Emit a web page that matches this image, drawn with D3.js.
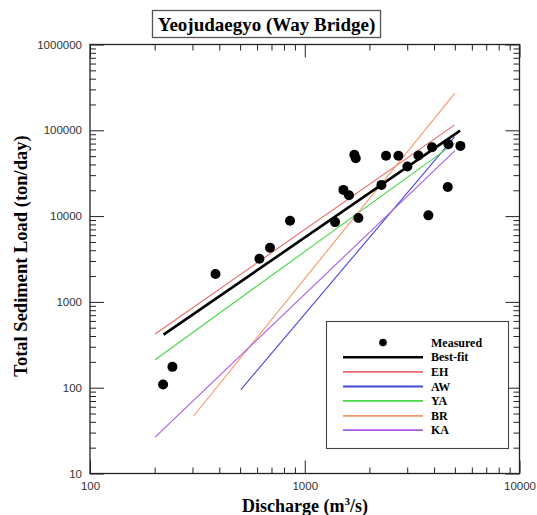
<!DOCTYPE html>
<html><head><meta charset="utf-8">
<script src="https://cdn.jsdelivr.net/npm/d3@7"></script>
<style>body{margin:0;background:#fff}svg{display:block}</style>
</head><body>
<script>
const title = "Yeojudaegyo (Way Bridge)";
const xLabelMain = "Discharge (m";
const yLabel = "Total Sediment Load (ton/day)";
const xTickLabels = [100, 1000, 10000];
const yTickLabels = [10, 100, 1000, 10000, 100000, 1000000];
// Measured points
const discharge = [219, 242, 384, 615, 689, 854, 1384, 1514, 1607, 1702, 1728, 1777, 2275, 2391, 2729, 3006, 3383, 3917, 3765, 4668, 4634, 5306];
const load = [109, 175, 2110, 3190, 4280, 8810, 8510, 20200, 17500, 51800, 47300, 9500, 23100, 50400, 50400, 37800, 50800, 63500, 10200, 68900, 21800, 65800];
// Fitted lines: [x start, y start, x end, y end]
const seriesNames = ["Best-fit", "EH", "AW", "YA", "BR", "KA"];
const lineStart = [[220, 415], [201, 423], [504, 95], [201, 212], [303, 46.5], [201, 26.5]];
const lineEnd = [[5290, 99200], [4990, 115600], [4990, 84000], [4990, 70800], [4990, 270000], [5010, 58000]];
const colors = ["#000000", "#e86a6a", "#4848d8", "#48d848", "#f4986a", "#a85ce0"];

const W = 537, H = 515;
const svg = d3.select("body").append("svg").attr("width", W).attr("height", H);
const x = d3.scaleLog().domain([100, 10000]).range([90, 519.5]);
const y = d3.scaleLog().domain([10, 1000000]).range([473.5, 44.5]);

function minorTicks(dom) {
  const out = [];
  for (let d = dom[0]; d < dom[1]; d *= 10) for (let k = 2; k <= 9; k++) out.push(d * k);
  return out;
}
const xMinor = minorTicks(x.domain()), yMinor = minorTicks(y.domain());
const fmt = d => String(d);
const axCol = "#222";

function styleAxis(g) { g.select(".domain").remove(); g.selectAll("line").attr("stroke", axCol).attr("stroke-width", 1); }
// bottom axis
svg.append("g").attr("transform", "translate(0,473.5)")
  .call(d3.axisBottom(x).tickValues(xMinor).tickSize(-6).tickFormat("")).call(styleAxis);
svg.append("g").attr("transform", "translate(0,473.5)")
  .call(d3.axisBottom(x).tickValues(xTickLabels).tickSize(-13).tickPadding(8).tickFormat(fmt)).call(styleAxis)
  .selectAll("text").attr("font-family", "Liberation Sans, Arial, sans-serif").attr("font-size", 11.5).attr("fill", "#333");
// top axis
svg.append("g").attr("transform", "translate(0,44.5)")
  .call(d3.axisTop(x).tickValues(xMinor).tickSize(-6).tickFormat("")).call(styleAxis);
svg.append("g").attr("transform", "translate(0,44.5)")
  .call(d3.axisTop(x).tickValues(xTickLabels).tickSize(-13).tickFormat("")).call(styleAxis);
// left axis
svg.append("g").attr("transform", "translate(90,0)")
  .call(d3.axisLeft(y).tickValues(yMinor).tickSize(-6).tickFormat("")).call(styleAxis);
svg.append("g").attr("transform", "translate(90,0)")
  .call(d3.axisLeft(y).tickValues(yTickLabels).tickSize(-14).tickPadding(8).tickFormat(fmt)).call(styleAxis)
  .selectAll("text").attr("font-family", "Liberation Sans, Arial, sans-serif").attr("font-size", 11.5).attr("fill", "#333");
// right axis
svg.append("g").attr("transform", "translate(519.5,0)")
  .call(d3.axisRight(y).tickValues(yMinor).tickSize(-6).tickFormat("")).call(styleAxis);
svg.append("g").attr("transform", "translate(519.5,0)")
  .call(d3.axisRight(y).tickValues(yTickLabels).tickSize(-14).tickFormat("")).call(styleAxis);
// frame
svg.append("rect").attr("x", 90).attr("y", 44.5).attr("width", 429.5).attr("height", 429)
  .attr("fill", "none").attr("stroke", axCol).attr("stroke-width", 1.3);

// fitted lines (others first, best-fit on top)
const order = [1, 2, 3, 4, 5, 0];
order.forEach(i => {
  svg.append("line")
    .attr("x1", x(lineStart[i][0])).attr("y1", y(lineStart[i][1]))
    .attr("x2", x(lineEnd[i][0])).attr("y2", y(lineEnd[i][1]))
    .attr("stroke", colors[i]).attr("stroke-width", i === 0 ? 2.6 : 1.1);
});

// points
svg.append("g").selectAll("circle").data(discharge).join("circle")
  .attr("cx", (d) => x(d)).attr("cy", (d, i) => y(load[i])).attr("r", 5).attr("fill", "#000");

// title
const serif = "Liberation Serif, Times New Roman, serif";
svg.append("rect").attr("x", 152.5).attr("y", 10.5).attr("width", 228).attr("height", 27)
  .attr("fill", "#fff").attr("stroke", "#555").attr("stroke-width", 1.3);
svg.append("text").attr("x", 266.5).attr("y", 30.5).attr("text-anchor", "middle")
  .attr("font-family", serif).attr("font-weight", "bold").attr("font-size", 19).text(title);

// x label
const xl = svg.append("text").attr("x", 305).attr("y", 512).attr("text-anchor", "middle")
  .attr("font-family", serif).attr("font-weight", "bold").attr("font-size", 18);
xl.append("tspan").text(xLabelMain);
xl.append("tspan").attr("font-size", 11).attr("dy", -7).text("3");
xl.append("tspan").attr("dy", 7).text("/s)");
// y label
svg.append("text").attr("transform", "translate(27,256) rotate(-90)").attr("text-anchor", "middle")
  .attr("font-family", serif).attr("font-weight", "bold").attr("font-size", 18.5).text(yLabel);

// legend
const lg = svg.append("g");
lg.append("rect").attr("x", 326.5).attr("y", 321.5).attr("width", 182).attr("height", 127)
  .attr("fill", "#fff").attr("stroke", "#444").attr("stroke-width", 1.1);
const rowY = [342.5, 357.3, 371.8, 386.5, 400.8, 415.8, 430.2];
const legNames = ["Measured"].concat(seriesNames);
legNames.forEach((n, j) => {
  if (j === 0) {
    lg.append("circle").attr("cx", 383).attr("cy", rowY[j]).attr("r", 3.8).attr("fill", "#000");
  } else {
    lg.append("line").attr("x1", 343).attr("x2", 423).attr("y1", rowY[j]).attr("y2", rowY[j])
      .attr("stroke", colors[j - 1]).attr("stroke-width", j === 1 ? 2.6 : 1.8);
  }
  lg.append("text").attr("x", 431).attr("y", rowY[j] + 4).attr("font-family", serif)
    .attr("font-weight", "bold").attr("font-size", 12).text(n);
});
</script>
</body></html>
